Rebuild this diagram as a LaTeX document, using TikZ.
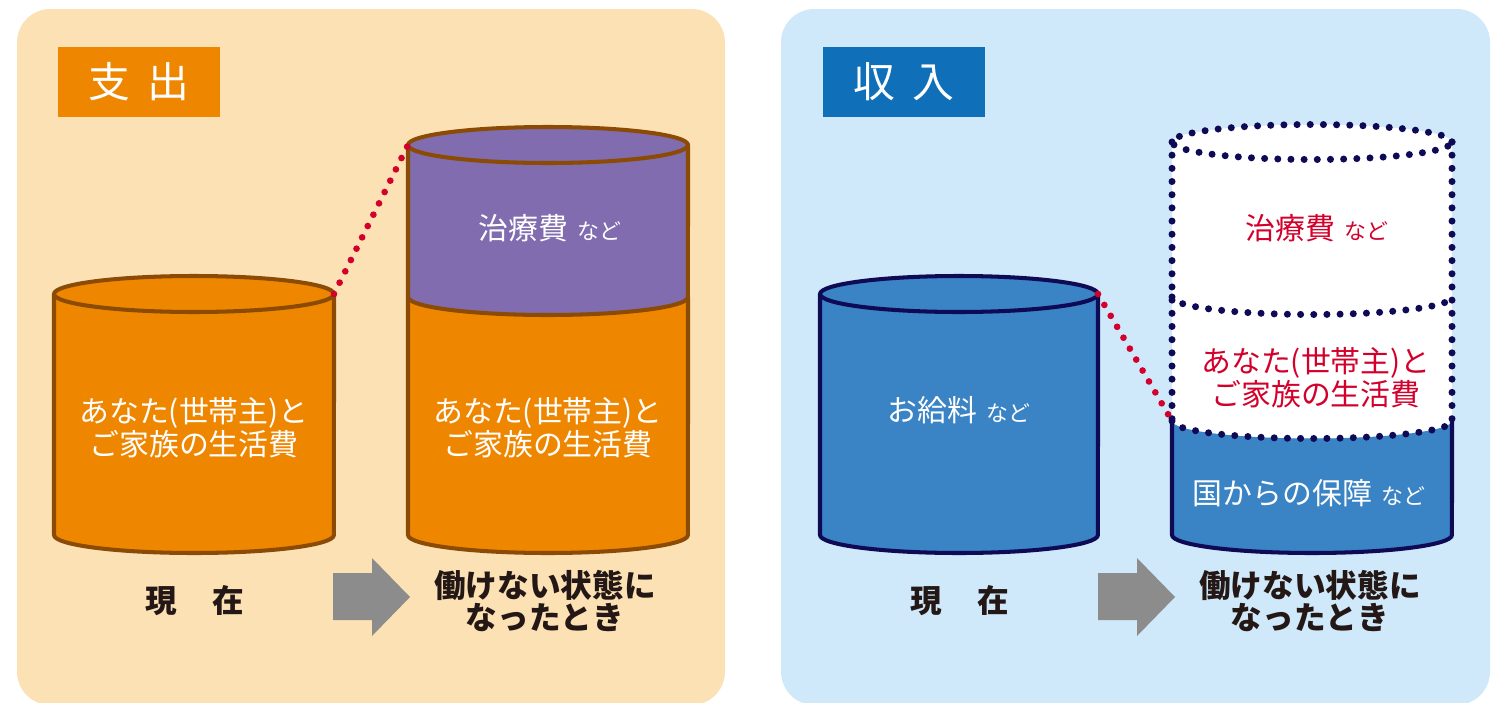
\documentclass[tikz,border=0pt]{standalone}
\usepackage{fontspec}
\setmainfont{Noto Sans CJK JP}
\definecolor{bgL}{HTML}{FCE1B5}
\definecolor{bgR}{HTML}{D0E9FA}
\definecolor{orangec}{HTML}{EF8600}
\definecolor{brownc}{HTML}{8B4B04}
\definecolor{purplec}{HTML}{806CAE}
\definecolor{bluec}{HTML}{3A83C4}
\definecolor{navyc}{HTML}{0F0A55}
\definecolor{redc}{HTML}{D3002C}
\definecolor{titleblue}{HTML}{0F6FB8}
\definecolor{grayc}{HTML}{8C8C8C}
\definecolor{darkc}{HTML}{231815}
\begin{document}
\begin{tikzpicture}[x=0.02cm,y=-0.02cm,
  panel/.style={rounded corners=19pt},
  cylL/.style={line width=2.3pt, line join=round, draw=brownc},
  cylR/.style={line width=2.3pt, line join=round, draw=navyc},
  reddots/.style={draw=redc, line width=3.8pt, line cap=round, dash pattern=on 0pt off 7.2pt},
  navydots/.style={draw=navyc, line width=4pt, line cap=round, dash pattern=on 0pt off 7.5pt},
  title/.style={text=white, font=\fontsize{23.8}{26}\selectfont, minimum width=3.24cm, minimum height=1.4cm, inner sep=0pt},
  wtxt/.style={text=white, font=\fontsize{17}{18.7}\selectfont, align=center, inner sep=0pt},
  rtxt/.style={text=redc, font=\fontsize{17}{18.7}\selectfont, align=center, inner sep=0pt},
  btxt/.style={text=darkc, font=\bfseries\fontsize{18}{18.7}\selectfont, align=center, inner sep=0pt},
  arrowshape/.style={fill=grayc}]
\newcommand{\nd}{\hspace{0.3em}{\fontsize{12.5}{14}\selectfont など}}
\useasboundingbox (0,0) rectangle (1494,703);
\fill[white] (0,0) rectangle (1494,703);
% panels
\fill[bgL, panel] (17,9) rectangle (725,705);
\fill[bgR, panel] (781,9) rectangle (1490,705);
% titles
\node[title, fill=orangec] (titleL) at (139,82) {支\hspace{0.4em}出};
\node[title, fill=titleblue] (titleR) at (904,82) {収\hspace{0.4em}入};

% ---------- left: current cylinder
\filldraw[cylL, fill=orangec] (54,294) -- (54,535) arc[start angle=180, end angle=360, x radius=2.8cm, y radius=0.36cm] -- (334,294) -- cycle;
\filldraw[cylL, fill=orangec] (194,294) ellipse [x radius=2.8cm, y radius=0.36cm];
\coordinate (cL1) at (334,294);
\node[wtxt] (tL1) at (194,428) {あなた(世帯主)と\\ご家族の生活費};

% ---------- left: future cylinder
\filldraw[cylL, fill=orangec] (408,297) -- (408,535) arc[start angle=180, end angle=360, x radius=2.8cm, y radius=0.36cm] -- (688,297) -- cycle;
\filldraw[cylL, fill=purplec] (408,145) -- (408,297) arc[start angle=180, end angle=360, x radius=2.8cm, y radius=0.36cm] -- (688,145) -- cycle;
\filldraw[cylL, fill=purplec] (548,145) ellipse [x radius=2.8cm, y radius=0.36cm];
\coordinate (cL2) at (408,145);
\node[wtxt] (tL2) at (550,228) {治療費\nd};
\node[wtxt] (tL3) at (548,428) {あなた(世帯主)と\\ご家族の生活費};
\draw[reddots] (cL1) -- (cL2);

% labels and arrow left
\node[btxt] (nowL) at (195,601) {現\hspace{1.1em}在};
\fill[arrowshape] (333,573) -- (372,573) -- (372,558) -- (410,597) -- (372,636) -- (372,620) -- (333,620) -- cycle;
\node[btxt] (thenL) at (545,601) {働けない状態に\\なったとき};

% ---------- right: current cylinder
\filldraw[cylR, fill=bluec] (820,294) -- (820,535) arc[start angle=180, end angle=360, x radius=2.78cm, y radius=0.36cm] -- (1098,294) -- cycle;
\filldraw[cylR, fill=bluec] (959,294) ellipse [x radius=2.78cm, y radius=0.36cm];
\coordinate (cR1) at (1098,294);
\node[wtxt] (tR1) at (959,410) {お給料\nd};

% ---------- right: future cylinder
\fill[white] (1172,142) -- (1172,421) arc[start angle=180, end angle=360, x radius=2.8cm, y radius=0.35cm] -- (1452,142) arc[start angle=0, end angle=180, x radius=2.8cm, y radius=0.35cm] -- cycle;
\fill[bluec] (1172,421) arc[start angle=180, end angle=360, x radius=2.8cm, y radius=0.35cm] -- (1452,535) arc[start angle=360, end angle=180, x radius=2.8cm, y radius=0.36cm] -- cycle;
\draw[cylR] (1172,421) -- (1172,535) arc[start angle=180, end angle=360, x radius=2.8cm, y radius=0.36cm] -- (1452,421);
\draw[navydots] (1312,142) ellipse [x radius=2.8cm, y radius=0.35cm];
\draw[navydots] (1172,142) -- (1172,421);
\draw[navydots] (1452,142) -- (1452,421);
\draw[navydots] (1172,297) arc[start angle=180, end angle=360, x radius=2.8cm, y radius=0.35cm];
\draw[navydots] (1172,421) arc[start angle=180, end angle=360, x radius=2.8cm, y radius=0.35cm];
\coordinate (cR2) at (1172,421);
\node[rtxt] (tR2) at (1317,228) {治療費\nd};
\node[rtxt] (tR3) at (1316,378) {あなた(世帯主)と\\ご家族の生活費};
\node[wtxt] (tR4) at (1309,493) {国からの保障\nd};
\draw[reddots] (cR1) -- (cR2);

% labels and arrow right
\node[btxt] (nowR) at (960,601) {現\hspace{1.1em}在};
\fill[arrowshape] (1098,573) -- (1137,573) -- (1137,558) -- (1175,597) -- (1137,636) -- (1137,620) -- (1098,620) -- cycle;
\node[btxt] (thenR) at (1310,601) {働けない状態に\\なったとき};
\end{tikzpicture}
\end{document}
